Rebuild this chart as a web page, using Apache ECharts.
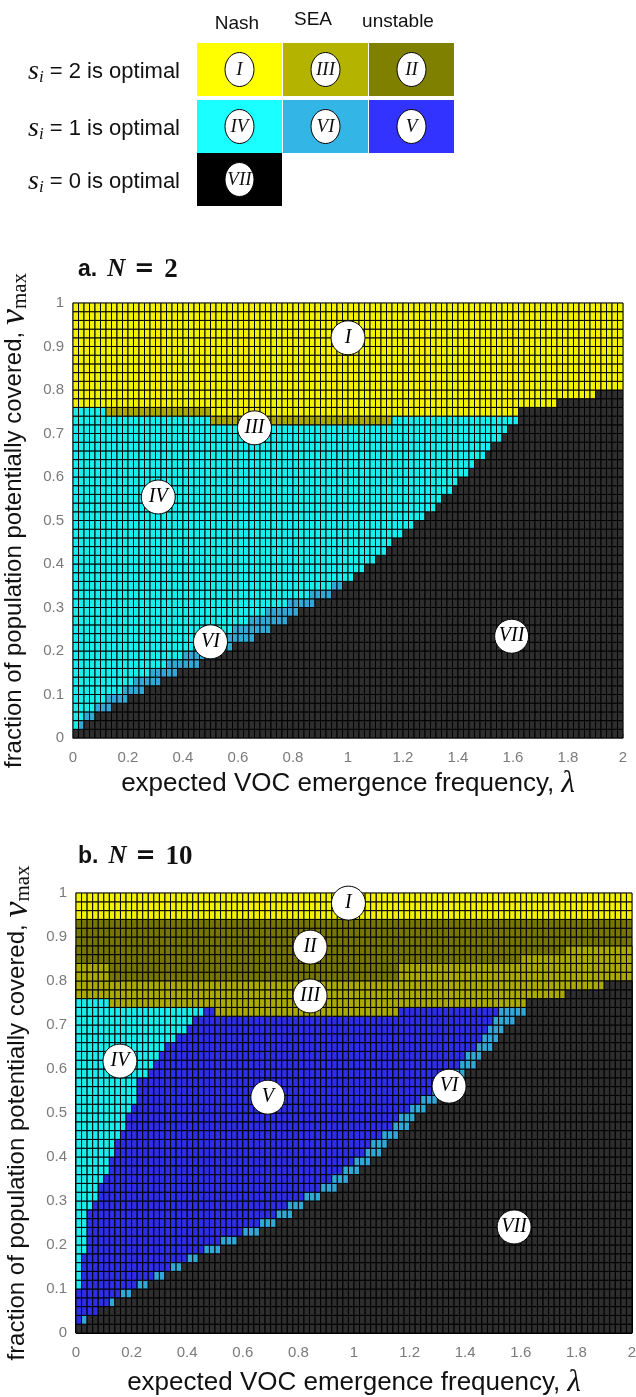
<!DOCTYPE html>
<html><head><meta charset="utf-8">
<script src="https://cdn.jsdelivr.net/npm/echarts@6/dist/echarts.min.js"></script>
<style>html,body{margin:0;padding:0;background:#fff}#c{width:636px;height:1397px}</style>
</head><body><div id="c"></div>
<script>
// ---------- data ----------
const lambdaStep = 0.02;           // column width in lambda
const vStep = 0.02;                // row height in v_max
const nCols = 100;
const xTickValues = [0,0.2,0.4,0.6,0.8,1,1.2,1.4,1.6,1.8,2];
const yTickValues = [0,0.1,0.2,0.3,0.4,0.5,0.6,0.7,0.8,0.9,1];
const regionOrder = ['I','II','III','IV','V','VI','VII'];

// Panel a (N=2): rows 0..35 -> first column of VI, first column of VII
const aCyanEnd   = [0,1,2,4,6,9,11,14,17,20,23,26,29,32,35,39,43,47,51,53,55,57,58,60,62,64,66,67,69,70,72,73,75,76,78,79];
const aBlackStart= [0,2,4,7,10,13,16,19,23,26,29,33,36,39,41,44,47,49,51,53,55,57,58,60,62,64,66,67,69,70,72,73,75,76,78,79];
// Panel a rows 36..49 as runs [region, end column]
const aTopRows = [
  [['IV',25],['III',58],['IV',81],['VII',100]],
  [['IV',6],['III',25],['I',81],['VII',100]],
  [['I',88],['VII',100]],
  [['I',95],['VII',100]],
  [['I',100]],[['I',100]],[['I',100]],[['I',100]],[['I',100]],
  [['I',100]],[['I',100]],[['I',100]],[['I',100]],[['I',100]]
];

// Panel b (N=10): rows 0..35 -> end of IV, end of V, end of VI
const bCyanEnd   = [0,0,0,0,0,1,1,1,1,2,2,2,2,2,3,4,4,5,6,6,7,7,8,9,9,10,11,11,11,13,14,15,16,18,20,21];
const bUnstEnd   = [0,1,4,6,8,11,14,17,20,23,26,30,33,36,38,41,44,46,48,50,52,53,55,57,58,60,62,64,65,67,69,70,72,73,74,75];
const bBlackStart= [0,2,4,7,10,13,16,19,22,26,29,33,36,39,41,44,47,49,51,53,55,56,58,60,61,63,65,67,68,70,72,73,75,76,77,79];
const bTopRows = [
  [['IV',23],['V',25],['III',58],['V',76],['VI',81],['VII',100]],
  [['IV',6],['III',81],['VII',100]],
  [['III',88],['VII',100]],
  [['III',95],['VII',100]],
  [['III',6],['II',58],['III',100]],
  [['III',6],['II',58],['III',100]],
  [['II',80],['III',100]],
  [['II',88],['III',100]],
  [['II',100]],[['II',100]],[['II',100]],
  [['I',100]],[['I',100]],[['I',100]]
];

// region label circles [lambda, v, label]
const aLabels = [[1.0,0.92,'I'],[0.66,0.713,'III'],[0.31,0.554,'IV'],[0.5,0.221,'VI'],[1.595,0.234,'VII']];
const bLabels = [[0.98,0.977,'I'],[0.842,0.877,'II'],[0.842,0.766,'III'],[0.158,0.618,'IV'],[0.69,0.536,'V'],[1.342,0.561,'VI'],[1.576,0.241,'VII']];

// legend
const legendCols = ['Nash','SEA','unstable'];
const legendRows = ['2','1','0'];
const legendCells = [['I','III','II'],['IV','VI','V'],['VII']];

// ---------- styling ----------
const legendColor = {I:'#ffff00',II:'#808000',III:'#b4b400',IV:'#1affff',V:'#3333ff',VI:'#33b5e5',VII:'#000000'};
const plotColor = {I:'#f2f200',II:'#767600',III:'#aaaa00',IV:'#19eeee',V:'#2e2ee8',VI:'#31a9d6',VII:'#2e2e2e'};

function buildCells(lowerRuns, topRows){
  const rows = lowerRuns.concat(topRows);
  const out = [];
  rows.forEach((runs, r) => {
    let c0 = 0;
    runs.forEach(([reg, end]) => {
      for (let c = c0; c < end; c++) out.push([c, r, regionOrder.indexOf(reg)]);
      if (end > c0) c0 = end;
    });
  });
  return out;
}
const aLower = aCyanEnd.map((ce, r) => [['IV', ce], ['VI', aBlackStart[r]], ['VII', nCols]]);
const bLower = bCyanEnd.map((ce, r) => [['IV', ce], ['V', bUnstEnd[r]], ['VI', bBlackStart[r]], ['VII', nCols]]);
const aCells = buildCells(aLower, aTopRows);
const bCells = buildCells(bLower, bTopRows);

function renderCell(params, api){
  const c = api.value(0), r = api.value(1), k = api.value(2);
  const p0 = api.coord([c*lambdaStep, (r+1)*vStep]);
  const p1 = api.coord([(c+1)*lambdaStep, r*vStep]);
  return {type:'rect', shape:{x:p0[0], y:p0[1], width:p1[0]-p0[0], height:p1[1]-p0[1]},
          style:{fill: plotColor[regionOrder[k]], stroke:'#000', lineWidth:1}};
}

const fmt = v => String(+v.toFixed(1));
function xAxisCfg(idx, gap){
  return {type:'value', gridIndex:idx, min:0, max:2, interval:0.2,
    axisLine:{show:true, lineStyle:{color:'#8a8a8a', width:1.5}},
    axisTick:{show:true, inside:true, length:4, lineStyle:{color:'#8a8a8a'}},
    splitLine:{show:false},
    axisLabel:{color:'#7a7a7a', fontSize:15, fontFamily:'Liberation Sans', margin:12, formatter:fmt},
    name:'{t|expected VOC emergence frequency, }{l|λ}', nameLocation:'middle', nameGap:gap,
    nameTextStyle:{rich:{t:{fontFamily:'Liberation Sans', fontSize:26, color:'#111'},
                          l:{fontFamily:'Liberation Serif', fontStyle:'italic', fontSize:31, color:'#111'}}}};
}
function yAxisCfg(idx){
  return {type:'value', gridIndex:idx, min:0, max:1, interval:0.1,
    axisLine:{show:true, lineStyle:{color:'#8a8a8a', width:1.5}},
    axisTick:{show:true, inside:true, length:4, lineStyle:{color:'#8a8a8a'}},
    splitLine:{show:false},
    axisLabel:{color:'#7a7a7a', fontSize:15, fontFamily:'Liberation Sans', margin:9, formatter:fmt},
    name:'{t|fraction of population potentially covered, }{v|v}{s|max}', nameLocation:'middle', nameGap:33, nameRotate:90,
    nameTextStyle:{rich:{t:{fontFamily:'Liberation Sans', fontSize:24, color:'#111'},
                          v:{fontFamily:'Liberation Serif', fontStyle:'italic', fontSize:36, color:'#111'},
                          s:{fontFamily:'Liberation Serif', fontSize:21, color:'#111', padding:[12,0,0,0]}}}};
}
function labelSeries(idx, data){
  return {type:'scatter', xAxisIndex:idx, yAxisIndex:idx, data:data, symbol:'circle', symbolSize:34, z:5,
    itemStyle:{color:'#fff', borderColor:'#000', borderWidth:1, opacity:1},
    label:{show:true, position:'inside', formatter:p => p.value[2], color:'#000',
           fontFamily:'Liberation Serif', fontStyle:'italic', fontSize:20},
    emphasis:{disabled:true}, silent:true};
}

// legend graphics
const graphics = [];
const colX = [197, 283, 369], colW = 85, rowY = [43, 100, 153], rowH = 53;
const headerX = [237, 313, 398], headerY = [24, 20, 22];
legendCols.forEach((t, i) => graphics.push({type:'text', x:headerX[i], y:headerY[i],
  style:{text:t, align:'center', verticalAlign:'middle', font:'19px "Liberation Sans"', fill:'#111'}}));
legendRows.forEach((n, j) => {
  graphics.push({type:'text', x:180, y:rowY[j]+rowH/2+2,
    style:{text:'{s|s}{i|i}{t| = '+n+' is optimal}', align:'right', verticalAlign:'middle',
      rich:{s:{font:'italic 28px "Liberation Serif"', fill:'#111'},
            i:{font:'italic 17px "Liberation Serif"', fill:'#111', padding:[12,0,0,0]},
            t:{font:'22px "Liberation Sans"', fill:'#111'}}}});
  legendCells[j].forEach((reg, i) => {
    graphics.push({type:'rect', shape:{x:colX[i], y:rowY[j], width:colW, height:rowH}, style:{fill:legendColor[reg]}});
    graphics.push({type:'ellipse', shape:{cx:colX[i]+colW/2, cy:rowY[j]+rowH/2, rx:14.5, ry:17}, style:{fill:'#fff', stroke:'#000', lineWidth:1}});
    graphics.push({type:'text', x:colX[i]+colW/2, y:rowY[j]+rowH/2,
      style:{text:reg, align:'center', verticalAlign:'middle', font:'italic 19px "Liberation Serif"', fill:'#111'}});
  });
});
// panel titles
[['a.','2',270],['b.','10',857]].forEach(([p, n, y]) => graphics.push({type:'text', x:78, y:y,
  style:{text:'{p|'+p+'}{n|N}{e|=}{d|'+n+'}', verticalAlign:'middle', rich:{
    p:{font:'bold 23px "Liberation Sans"', fill:'#111'},
    n:{font:'bold italic 25px "Liberation Serif"', fill:'#111', padding:[0,0,0,10]},
    e:{font:'bold 24px "DejaVu Sans"', fill:'#111', padding:[0,0,0,9]},
    d:{font:'bold 27px "Liberation Serif"', fill:'#111', padding:[0,0,0,10]}}}}));

const chart = echarts.init(document.getElementById('c'), null, {renderer:'canvas'});
chart.setOption({
  animation:false,
  backgroundColor:'#fff',
  grid:[{left:73, top:303, width:550, height:435, show:true, borderColor:'#8a8a8a', borderWidth:1, containLabel:false, outerBoundsMode:'none'},
        {left:76, top:893, width:556, height:440, show:true, borderColor:'#8a8a8a', borderWidth:1, containLabel:false, outerBoundsMode:'none'}],
  xAxis:[xAxisCfg(0, 30), xAxisCfg(1, 34)],
  yAxis:[yAxisCfg(0), yAxisCfg(1)],
  series:[
    {type:'custom', xAxisIndex:0, yAxisIndex:0, data:aCells, renderItem:renderCell, silent:true},
    {type:'custom', xAxisIndex:1, yAxisIndex:1, data:bCells, renderItem:renderCell, silent:true},
    labelSeries(0, aLabels), labelSeries(1, bLabels)
  ],
  graphic:graphics
});
</script></body></html>
